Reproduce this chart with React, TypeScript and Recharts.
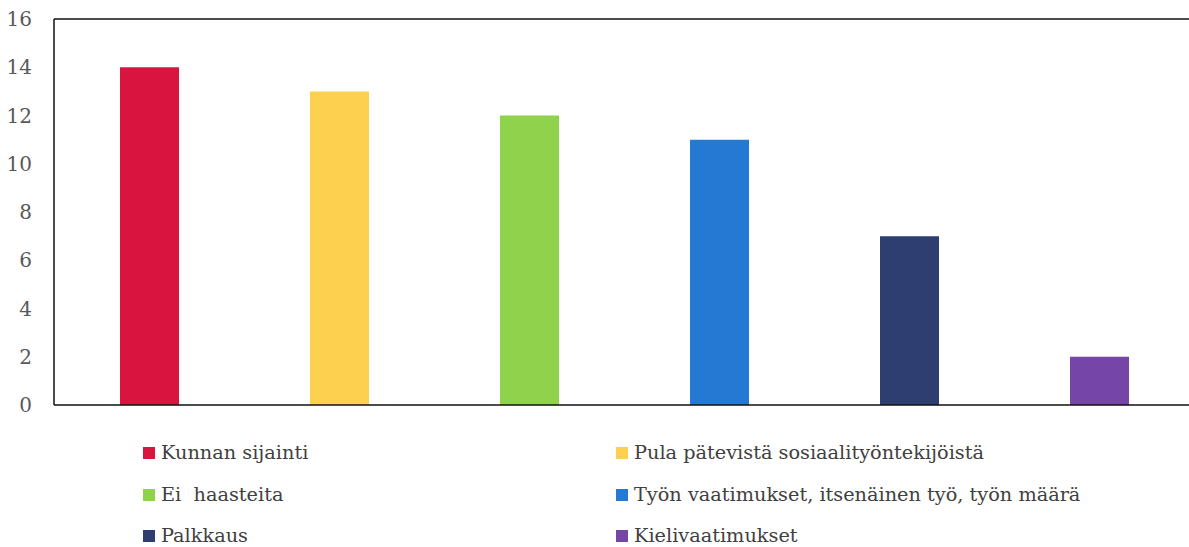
import React from 'react'
import { BarChart, Bar, Cell, XAxis, YAxis, Legend, ReferenceLine } from 'recharts'

const categories = [
  'Kunnan sijainti',
  'Pula pätevistä sosiaalityöntekijöistä',
  'Ei  haasteita',
  'Työn vaatimukset, itsenäinen työ, työn määrä',
  'Palkkaus',
  'Kielivaatimukset',
]
const counts = [14, 13, 12, 11, 7, 2]
const colors = ['#d8143f', '#fdd14f', '#8fd24c', '#2479d2', '#2f3e70', '#7646a6']
const yTicks = [0, 2, 4, 6, 8, 10, 12, 14, 16]

const data = categories.map((name, i) => ({ name, value: counts[i] }))

const FONT = "'DejaVu Serif', serif"

const LegendBox = () => {
  const rows = [0, 1, 2]
  return (
    <div style={{ height: 141, position: 'relative', fontFamily: FONT, fontSize: 19.3, color: '#404040' }}>
      {rows.map((r) =>
        [0, 1].map((c) => {
          const i = r * 2 + c
          return (
            <div
              key={i}
              style={{
                position: 'absolute',
                left: c === 0 ? 143 : 616,
                top: 37 + r * 41.5,
                height: 20,
                display: 'flex',
                alignItems: 'center',
                whiteSpace: 'pre',
                lineHeight: '20px',
              }}
            >
              <span style={{ display: 'inline-block', width: 12, height: 12, background: colors[i], marginRight: 6 }} />
              {categories[i]}
            </div>
          )
        })
      )}
    </div>
  )
}

const App = () => {
  return (
    <div style={{ position: 'absolute', left: 0, top: 0, width: 1189, height: 547, overflow: 'hidden', background: '#fff' }}>
      <BarChart width={1196} height={547} data={data} margin={{ top: 19, right: 2, left: 0, bottom: 0 }}>
        <XAxis dataKey="name" tick={false} tickLine={false} height={1} axisLine={{ stroke: '#111', strokeWidth: 1.5 }} />
        <YAxis
          width={54}
          domain={[0, 16]}
          ticks={yTicks}
          interval={0}
          tickLine={false}
          tickSize={0}
          tickMargin={22}
          axisLine={{ stroke: '#111', strokeWidth: 1.5 }}
          tick={{ fill: '#595959', fontSize: 20, fontFamily: FONT }}
        />
        <ReferenceLine y={16} stroke="#111" strokeWidth={1.5} />
        <Legend verticalAlign="bottom" content={<LegendBox />} />
        <Bar dataKey="value" barSize={59} isAnimationActive={false}>
          {data.map((d, i) => (
            <Cell key={d.name} fill={colors[i]} />
          ))}
        </Bar>
      </BarChart>
    </div>
  )
}

export default App
